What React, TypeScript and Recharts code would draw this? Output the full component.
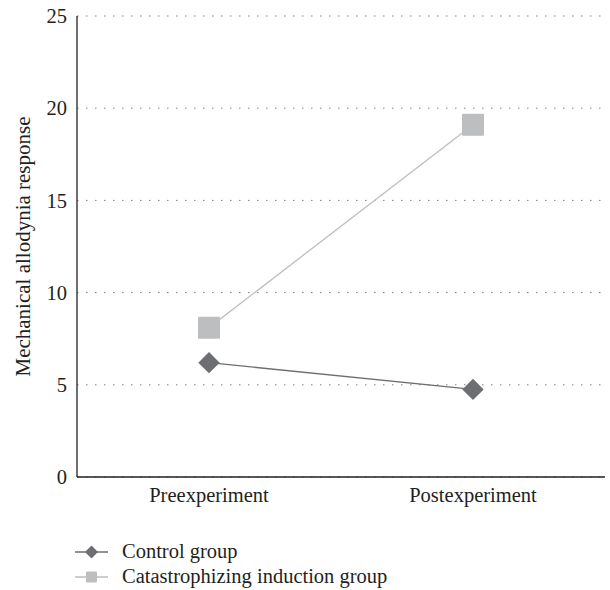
import { LineChart, Line, XAxis, YAxis, CartesianGrid } from "recharts";

const PHASES = ["Preexperiment", "Postexperiment"];
const CONTROL = [6.2, 4.75];
const CATASTROPHIZING = [8.1, 19.1];
const Y_TICKS = [0, 5, 10, 15, 20, 25];

const SERIES = [
  { key: "control", name: "Control group", color: "#6d6e71", marker: "diamond" },
  { key: "catastrophizing", name: "Catastrophizing induction group", color: "#bcbec0", marker: "square" },
];

const rows = PHASES.map((phase, i) => ({
  phase,
  control: CONTROL[i],
  catastrophizing: CATASTROPHIZING[i],
}));

const FONT = "'Liberation Serif', 'Times New Roman', serif";
const INK = "#231f20";

function Diamond({ cx, cy, r, fill }: { cx: number; cy: number; r: number; fill: string }) {
  return <path d={`M${cx},${cy - r}L${cx + r},${cy}L${cx},${cy + r}L${cx - r},${cy}Z`} fill={fill} />;
}

function Square({ cx, cy, r, fill }: { cx: number; cy: number; r: number; fill: string }) {
  return <rect x={cx - r} y={cy - r} width={r * 2} height={r * 2} rx={1} fill={fill} />;
}

function LegendBox() {
  return (
    <div style={{ position: "absolute", left: 72, top: 539, fontFamily: FONT, fontSize: 20.5, color: INK }}>
      {SERIES.map((s) => (
        <div key={s.key} style={{ display: "flex", alignItems: "center", height: 25 }}>
          <svg width={40} height={24} style={{ marginRight: 10 }}>
            <line x1={3} y1={12} x2={36} y2={12} stroke={s.color} strokeWidth={1.3} />
            {s.marker === "diamond" ? (
              <Diamond cx={19.5} cy={12} r={6.5} fill={s.color} />
            ) : (
              <Square cx={19.5} cy={12} r={5.5} fill={s.color} />
            )}
          </svg>
          <span>{s.name}</span>
        </div>
      ))}
    </div>
  );
}

export default function App() {
  const tick = { fontFamily: FONT, fontSize: 20.5, fill: INK };
  return (
    <div style={{ position: "absolute", left: 0, top: 0, width: 610, height: 590, background: "#fff" }}>
      <LineChart width={610} height={590} data={rows} margin={{ top: 16, right: 5, bottom: 73, left: 0 }}>
        <CartesianGrid vertical={false} stroke="#808285" strokeDasharray="1.5 7.5" />
        <XAxis
          dataKey="phase"
          axisLine={{ stroke: INK, strokeWidth: 1.3 }}
          tickLine={false}
          tick={tick}
          tickMargin={4}
          height={40}
          interval={0}
          padding={{ left: 132, right: 132 }}
        />
        <YAxis
          domain={[0, 25]}
          ticks={Y_TICKS}
          axisLine={{ stroke: INK, strokeWidth: 1.3 }}
          tickLine={false}
          tick={tick}
          tickMargin={4}
          width={77}
          label={{
            value: "Mechanical allodynia response",
            angle: -90,
            position: "insideLeft",
            dx: 18,
            style: { fontFamily: FONT, fontSize: 21, fill: INK, textAnchor: "middle" },
          }}
        />
        <Line
          dataKey="control"
          name="Control group"
          stroke="#6d6e71"
          strokeWidth={1.3}
          isAnimationActive={false}
          dot={(p: any) => <Diamond key={p.index} cx={p.cx} cy={p.cy} r={10.7} fill="#6d6e71" />}
          activeDot={false}
        />
        <Line
          dataKey="catastrophizing"
          name="Catastrophizing induction group"
          stroke="#bcbec0"
          strokeWidth={1.3}
          isAnimationActive={false}
          dot={(p: any) => <Square key={p.index} cx={p.cx} cy={p.cy} r={11} fill="#bcbec0" />}
          activeDot={false}
        />
      </LineChart>
      <LegendBox />
    </div>
  );
}
